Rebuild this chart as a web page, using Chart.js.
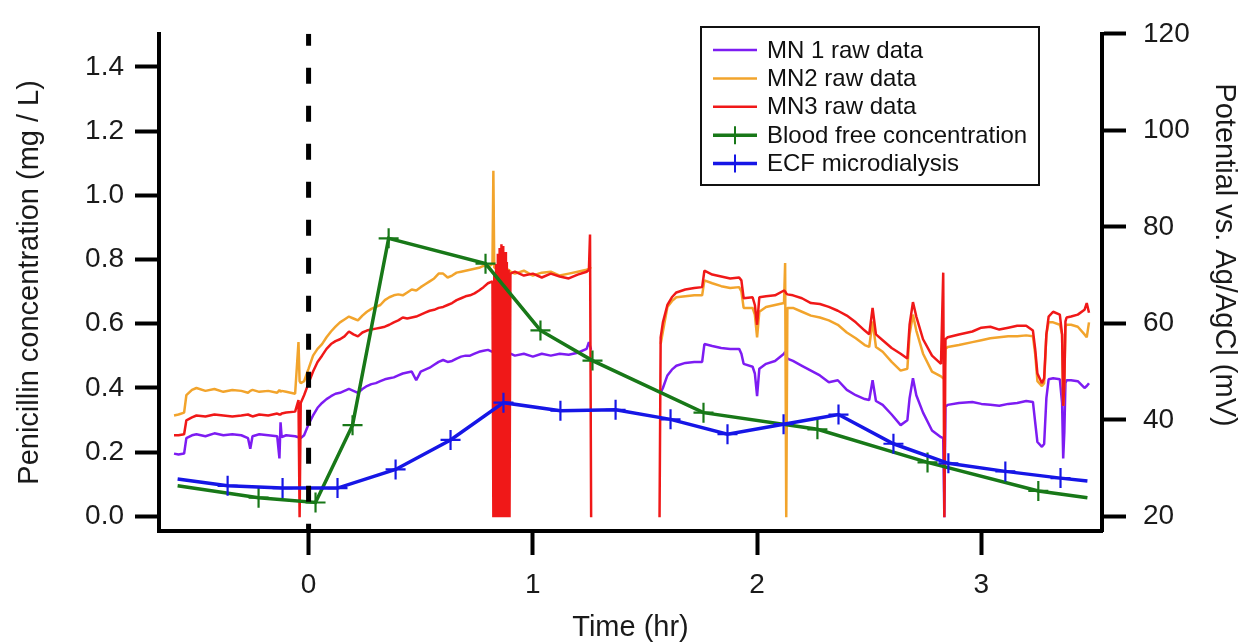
<!DOCTYPE html>
<html><head><meta charset="utf-8">
<script src="https://cdn.jsdelivr.net/npm/chart.js@4.4.1/dist/chart.umd.min.js"></script>
<style>html,body{margin:0;padding:0;background:#fff;}#wrap{width:1255px;height:644px;}</style>
</head><body><div id="wrap"><canvas id="c" width="1255" height="644"></canvas></div>
<script>
// ---------- data ----------
const timeTicks = [0, 1, 2, 3];
const leftTicks = [0, 0.2, 0.4, 0.6, 0.8, 1.0, 1.2, 1.4];
const rightTicks = [20, 40, 60, 80, 100, 120];
const doseTime = 0;

const rawTimes = [
 -0.60,-0.58,-0.555,-0.545,-0.52,-0.50,-0.46,-0.42,-0.38,-0.34,-0.30,-0.27,-0.26,-0.25,-0.22,-0.18,-0.14,-0.13,-0.125,-0.12,-0.10,-0.06,-0.045,-0.04,-0.035,-0.02,
 0.00,0.02,0.04,0.06,0.08,0.10,0.12,0.14,0.16,0.18,0.20,0.22,0.24,0.26,0.28,0.30,0.32,0.34,0.36,0.38,0.40,0.42,0.44,0.46,0.48,0.50,0.52,0.54,0.56,0.58,0.60,0.62,0.64,0.66,0.68,0.70,0.72,0.74,0.76,0.78,0.80,0.82,
 0.824,0.828,0.832,0.836,0.840,0.844,0.848,0.852,0.856,0.860,0.864,0.868,0.872,0.876,0.880,0.884,0.888,0.892,0.896,0.900,
 0.92,0.96,1.00,1.04,1.08,1.12,1.16,1.20,1.24,1.25,1.255,1.26,
 1.40,
 1.565,1.57,1.58,1.60,1.62,1.64,1.68,1.72,1.755,1.765,
 1.80,1.84,1.88,1.92,1.93,1.94,1.98,1.99,2.00,2.01,
 2.04,2.08,2.12,2.125,2.13,2.135,2.16,2.20,2.24,2.28,
 2.32,2.36,2.40,2.44,2.48,2.50,2.515,2.53,2.56,2.60,
 2.64,2.67,2.68,2.695,2.71,2.74,2.78,2.82,2.83,2.835,
 2.84,2.85,2.90,2.96,3.00,3.04,3.08,3.12,3.16,3.20,
 3.23,3.24,3.25,3.27,3.28,3.29,3.30,3.32,3.35,3.36,
 3.365,3.37,3.375,3.38,3.40,3.43,3.46,3.47,3.48
];

const mn1Values = [
 33.0,32.8,33.0,36.2,36.8,37.0,36.6,37.2,36.8,37.0,36.8,36.2,34.0,36.6,37.0,36.8,36.6,32.0,39.5,36.4,36.8,36.6,36.4,36.4,36.2,36.8,
 39.1,40.9,42.5,43.5,44.3,44.9,45.4,45.6,46.0,46.4,46.0,45.6,46.4,47.0,47.4,47.6,48.0,48.4,48.6,48.8,49.2,49.6,49.8,50.0,48.2,50.0,50.4,50.8,51.4,52.0,52.4,52.0,52.2,52.7,53.1,53.3,53.3,53.7,54.1,54.3,54.5,54.1,
 54.1,53.9,54.1,53.7,53.9,54.1,53.9,53.7,53.9,54.1,53.9,53.7,53.9,53.7,53.9,53.7,53.7,53.9,53.7,53.7,
 53.3,53.7,53.1,53.7,53.3,53.7,53.5,53.9,54.7,56.1,55.3,54.5,
 null,
 null,45.6,46.6,49.2,50.4,51.2,51.8,52.0,52.0,55.7,
 55.3,54.9,54.7,54.7,53.7,51.6,51.0,49.6,44.9,50.6,
 51.6,52.2,53.7,54.1,53.3,52.7,52.2,51.2,50.2,49.2,
 47.8,48.2,46.2,45.1,44.3,44.1,48.2,43.9,43.1,41.1,
 38.9,39.9,44.5,48.6,45.1,41.5,37.8,36.4,36.2,19.8,
 42.7,43.1,43.5,43.7,43.3,43.1,42.9,43.3,43.5,43.9,
 43.7,39.5,35.4,34.4,35.0,44.5,48.4,48.6,48.4,43.5,
 32.0,37.4,47.6,48.2,48.2,48.0,46.6,47.0,47.6
];

const mn2Values = [
 40.9,41.1,41.5,45.1,46.2,46.6,46.0,46.4,45.8,46.2,46.0,45.6,46.0,46.2,45.8,46.0,45.6,46.2,45.8,46.0,45.8,45.4,56.1,48.0,47.6,48.0,
 50.6,53.3,54.7,55.7,57.1,58.3,59.3,60.2,60.8,61.4,61.0,60.6,61.6,62.4,63.0,63.4,63.8,64.8,65.4,65.8,66.0,65.8,66.4,67.0,66.8,67.5,68.1,68.7,69.3,70.3,70.3,69.5,69.9,70.5,70.7,70.9,71.1,71.3,71.5,71.9,71.7,72.3,
 91.6,71.5,71.5,71.3,71.5,71.5,71.3,71.5,71.3,71.5,71.5,71.3,71.3,71.5,71.3,71.3,71.1,71.1,70.9,70.7,
 70.3,70.9,69.9,70.5,70.7,69.9,70.3,70.7,71.1,71.3,71.5,71.3,
 null,
 null,55.7,58.3,63.4,64.6,65.4,65.6,65.8,65.8,68.9,
 68.3,67.7,67.3,67.5,66.6,63.2,63.2,61.8,57.1,62.4,
 63.4,63.8,64.2,72.5,19.8,63.2,63.2,62.4,61.6,61.2,
 60.6,59.7,58.1,56.9,55.5,55.1,60.4,55.1,54.1,52.0,
 50.2,50.6,57.7,61.8,58.5,53.7,50.0,49.0,48.6,48.6,
 54.7,55.1,55.5,56.1,56.5,56.9,57.1,57.3,57.3,57.5,
 57.3,53.7,48.0,47.0,47.6,57.7,60.2,60.2,59.7,57.7,
 42.9,47.6,59.3,59.7,59.7,59.3,57.7,57.1,60.2
];

const mn3Values = [
 36.8,36.8,37.0,39.9,40.5,40.9,40.7,41.1,40.9,40.7,40.9,41.1,40.9,40.7,41.1,40.9,41.3,41.1,41.1,41.3,41.5,41.7,44.1,19.8,43.5,45.1,
 47.6,50.0,52.0,53.3,54.7,55.7,56.3,56.7,57.3,58.3,57.7,57.3,58.1,58.5,58.7,58.9,59.1,59.3,59.7,60.2,60.6,61.2,61.0,61.2,61.4,61.8,62.2,62.6,62.8,63.2,63.4,63.8,64.2,64.8,65.2,65.6,65.8,66.2,66.8,67.5,68.3,68.7,
 19.8,70.3,19.8,72.3,19.8,74.4,19.8,75.6,19.8,76.4,19.8,76.0,19.8,74.8,19.8,72.7,19.8,71.1,19.8,70.3,
 70.7,69.9,70.3,69.5,70.3,69.7,69.3,70.1,70.7,71.1,78.4,19.8,
 null,
 19.8,57.1,60.2,63.8,65.4,66.4,67.0,67.3,67.5,70.9,
 70.1,69.7,69.3,69.5,68.9,65.2,65.4,63.8,59.7,65.4,
 65.6,65.8,66.8,66.6,66.2,66.0,65.8,65.2,64.2,64.0,
 63.4,62.6,61.6,60.2,58.5,57.7,63.2,57.7,56.5,54.9,
 53.7,52.7,59.7,64.4,61.4,56.7,53.3,51.6,70.5,19.8,
 56.7,57.1,57.7,58.3,59.1,59.3,58.7,59.1,59.5,59.5,
 58.5,54.7,49.6,47.6,48.6,57.7,61.4,62.4,61.8,57.7,
 42.9,47.6,60.4,61.2,61.4,61.8,62.8,64.2,62.2
];

const bloodTimes  = [-0.584, -0.223, 0.031, 0.196, 0.357, 0.789, 1.034, 1.266, 1.761, 2.269, 2.760, 3.254, 3.473];
const bloodValues = [ 0.095,  0.058, 0.043, 0.284, 0.866, 0.787, 0.579, 0.485, 0.323, 0.271, 0.168, 0.079, 0.058];

const ecfTimes  = [-0.584, -0.361, -0.116, 0.129, 0.388, 0.633, 0.869, 1.123, 1.369, 1.614, 1.868, 2.118, 2.363, 2.608, 2.853, 3.107, 3.353, 3.473];
const ecfValues = [ 0.116,  0.095,  0.088, 0.088, 0.146, 0.238, 0.354, 0.329, 0.332, 0.302, 0.256, 0.287, 0.317, 0.226, 0.165, 0.140, 0.119, 0.110];

const legendOrder = ['MN 1 raw data', 'MN2 raw data', 'MN3 raw data', 'Blood free concentration', 'ECF microdialysis'];
const rightTitle = 'Potential vs. Ag/AgCl (mV)';

// ---------- axis ranges ----------
const X_MIN = -0.667, X_MAX = 3.538;
const Y_MIN = -0.0457, Y_MAX = 1.503;
const Y2_MIN = 16.96, Y2_MAX = 120;

// ---------- build ----------
const pts = (ts, vs) => ts.map((t, i) => ({x: t, y: vs[i] === undefined ? null : vs[i]}));
const endsHidden = (r) => (ctx) => {
  const n = ctx.dataset.data.length;
  return (ctx.dataIndex === 0 || ctx.dataIndex === n - 1) ? 0 : r;
};

const FAMILY = "'Liberation Sans', Arial, Helvetica, sans-serif";
Chart.defaults.font.family = FAMILY;
Chart.defaults.color = '#1a1a1a';

const FONT_TICK = {size: 28};
const FONT_TITLE = {size: 29, lineHeight: 1};

const legendPlugin = {
  id: 'boxLegend',
  afterDatasetsDraw(chart) {
    const ctx = chart.ctx;
    const L = 701, T = 27, R = 1039, B = 185;
    ctx.save();
    ctx.fillStyle = '#fff';
    ctx.fillRect(L, T, R - L, B - T);
    ctx.strokeStyle = '#111';
    ctx.lineWidth = 2;
    ctx.strokeRect(L, T, R - L, B - T);
    legendOrder.forEach((label, i) => {
      const ds = chart.data.datasets.find(d => d.label === label);
      const y = 50 + i * 28.4;
      ctx.strokeStyle = ds.borderColor;
      ctx.lineWidth = ds.borderWidth;
      ctx.beginPath(); ctx.moveTo(713, y); ctx.lineTo(757, y); ctx.stroke();
      if (ds.pointStyle === 'cross') {
        ctx.lineWidth = 2;
        ctx.beginPath(); ctx.moveTo(735, y - 9); ctx.lineTo(735, y + 9); ctx.stroke();
      }
      ctx.fillStyle = '#111';
      ctx.font = "24px " + FAMILY;
      ctx.textBaseline = 'middle';
      ctx.textAlign = 'left';
      ctx.fillText(label, 767, y + 1);
    });
    ctx.restore();
  }
};

const rightTitlePlugin = {
  id: 'rightTitle',
  afterDraw(chart) {
    const ctx = chart.ctx;
    const s = chart.scales.y2;
    ctx.save();
    ctx.translate(s.right - 31, 255);
    ctx.rotate(Math.PI / 2);
    ctx.fillStyle = '#1a1a1a';
    ctx.font = FONT_TITLE.size + "px " + FAMILY;
    ctx.textAlign = 'center';
    ctx.textBaseline = 'middle';
    ctx.fillText(rightTitle, 0, 0);
    ctx.restore();
  }
};

const rawStyle = (color) => ({
  borderColor: color, backgroundColor: color, borderWidth: 2.5, pointRadius: 0,
  borderJoinStyle: 'bevel', tension: 0, spanGaps: false, yAxisID: 'y2', fill: false
});
const pkStyle = (color) => ({
  borderColor: color, backgroundColor: color, borderWidth: 3.5, tension: 0, yAxisID: 'y',
  pointStyle: 'cross', pointRadius: endsHidden(10), pointBorderWidth: 2.2,
  pointBorderColor: color, pointHoverRadius: 0, fill: false
});

new Chart(document.getElementById('c'), {
  type: 'line',
  data: {
    datasets: [
      Object.assign({label: 'dose', data: [{x: doseTime, y: Y_MAX}, {x: doseTime, y: Y_MIN}],
        borderColor: '#000', borderWidth: 5, borderDash: [16, 22], borderDashOffset: 4,
        pointRadius: 0, yAxisID: 'y', order: -1, borderCapStyle: 'butt'}),
      Object.assign({label: 'ECF microdialysis', data: pts(ecfTimes, ecfValues), order: 0}, pkStyle('#1616e6')),
      Object.assign({label: 'Blood free concentration', data: pts(bloodTimes, bloodValues), order: 1}, pkStyle('#187818')),
      Object.assign({label: 'MN3 raw data', data: pts(rawTimes, mn3Values), order: 2}, rawStyle('#f01818')),
      Object.assign({label: 'MN2 raw data', data: pts(rawTimes, mn2Values), order: 3}, rawStyle('#f2a42c')),
      Object.assign({label: 'MN 1 raw data', data: pts(rawTimes, mn1Values), order: 4}, rawStyle('#7d1cf2'))
    ]
  },
  options: {
    responsive: false, animation: false, events: [],
    layout: {padding: {top: 23, left: 0, right: 0, bottom: 0}},
    plugins: {legend: {display: false}, tooltip: {enabled: false}},
    scales: {
      x: {
        type: 'linear', position: 'bottom', min: X_MIN, max: X_MAX,
        afterBuildTicks: s => { s.ticks = timeTicks.map(v => ({value: v})); },
        afterFit: s => { s.height = 113; },
        ticks: {font: FONT_TICK, padding: 13, color: '#1a1a1a', callback: v => String(v), maxRotation: 0, autoSkip: false},
        grid: {drawOnChartArea: false, drawTicks: true, tickLength: 24, tickWidth: 4, tickColor: '#000'},
        border: {display: true, color: '#000', width: 4},
        title: {display: true, text: 'Time (hr)', font: FONT_TITLE, padding: {top: 0, bottom: 2}, color: '#1a1a1a'}
      },
      y: {
        type: 'linear', position: 'left', min: Y_MIN, max: Y_MAX,
        afterBuildTicks: s => { s.ticks = leftTicks.map(v => ({value: v})); },
        afterFit: s => { s.width = 159; },
        ticks: {font: FONT_TICK, padding: 11, color: '#1a1a1a', callback: v => Number(v).toFixed(1), autoSkip: false},
        grid: {drawOnChartArea: false, drawTicks: true, tickLength: 24, tickWidth: 4, tickColor: '#000'},
        border: {display: true, color: '#000', width: 4},
        title: {display: true, text: 'Penicillin concentration (mg / L)', font: FONT_TITLE, padding: {top: 15, bottom: 0}, color: '#1a1a1a'}
      },
      y2: {
        type: 'linear', position: 'right', min: Y2_MIN, max: Y2_MAX,
        afterBuildTicks: s => { s.ticks = rightTicks.map(v => ({value: v})); },
        afterFit: s => { s.width = 153; },
        ticks: {font: FONT_TICK, padding: 17, color: '#1a1a1a', callback: v => String(v), autoSkip: false},
        grid: {drawOnChartArea: false, drawTicks: true, tickLength: 24, tickWidth: 4, tickColor: '#000'},
        border: {display: true, color: '#000', width: 4},
        title: {display: false}
      }
    }
  },
  plugins: [legendPlugin, rightTitlePlugin]
});
</script>
</body></html>
